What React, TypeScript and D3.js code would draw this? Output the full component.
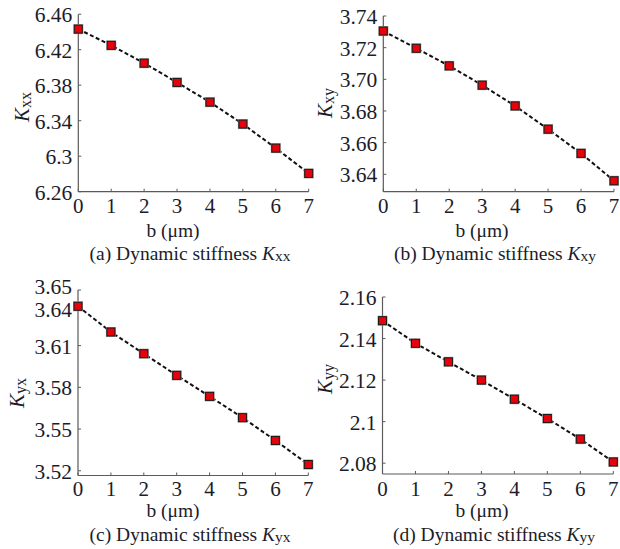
import React from "react";
import * as d3 from "d3";

const bValues = [0, 1, 2, 3, 4, 5, 6, 7];
const xTickLabels = ["0", "1", "2", "3", "4", "5", "6", "7"];

const kxx = [6.4432, 6.4249, 6.4048, 6.3831, 6.3609, 6.3362, 6.3091, 6.2806];
const kxy = [3.7305, 3.7196, 3.7085, 3.6963, 3.6832, 3.6685, 3.6532, 3.6359];
const kyx = [3.6383, 3.6198, 3.6042, 3.5886, 3.5735, 3.5582, 3.5418, 3.5245];
const kyy = [2.1486, 2.1377, 2.1288, 2.12, 2.1108, 2.1015, 2.0916, 2.0806];

const kxxTicks = [6.26, 6.3, 6.34, 6.38, 6.42, 6.46];
const kxxTickLabels = ["6.26", "6.3", "6.34", "6.38", "6.42", "6.46"];
const kxyTicks = [3.64, 3.66, 3.68, 3.7, 3.72, 3.74];
const kxyTickLabels = ["3.64", "3.66", "3.68", "3.70", "3.72", "3.74"];
const kyxTicks = [3.52, 3.55, 3.58, 3.61, 3.64, 3.65];
const kyxTickLabels = ["3.52", "3.55", "3.58", "3.61", "3.64", "3.65"];
const kyyTicks = [2.08, 2.1, 2.12, 2.14, 2.16];
const kyyTickLabels = ["2.08", "2.1", "2.12", "2.14", "2.16"];

const FONT = "'Liberation Serif', 'DejaVu Serif', serif";
const TXT = "#1c1c2a";
const AX = "#5a5a5a";

type PanelProps = {
  values: number[];
  xRange: [number, number];
  yDomain: [number, number];
  yRange: [number, number];
  yTicks: number[];
  yTickLabels: string[];
  labelShift?: number[];
  sub: string;
  letter: string;
  ylabelX: number;
  ylabelY: number;
  xTickY: number;
  xLabelY: number;
  captionY: number;
  captionX: number;
  xLabelX: number;
};

function Panel(p: PanelProps) {
  const x = d3.scaleLinear().domain([0, 7]).range(p.xRange);
  const y = d3.scaleLinear().domain(p.yDomain).range(p.yRange);
  const axisY = p.yRange[0];
  const axisTop = p.yRange[1];
  const line = d3
    .line<number>()
    .x((_, i) => x(bValues[i]))
    .y((v) => y(v));
  const x0 = p.xRange[0];
  return (
    <g>
      <line x1={x0} x2={x0} y1={axisY} y2={axisTop} stroke={AX} strokeWidth={1.2} />
      <line x1={x0} x2={p.xRange[1]} y1={axisY} y2={axisY} stroke={AX} strokeWidth={1.2} />
      {p.yTicks.map((t, i) => (
        <g key={"yt" + i}>
          <line x1={x0} x2={x0 + 3} y1={y(t)} y2={y(t)} stroke={AX} strokeWidth={1} />
          <text
            x={x0 - 6}
            y={y(t) + 8 + (p.labelShift ? p.labelShift[i] : 0)}
            textAnchor="end"
            fontFamily={FONT}
            fontSize={21.5}
            fill={TXT}
          >
            {p.yTickLabels[i]}
          </text>
        </g>
      ))}
      {bValues.map((b, i) => (
        <g key={"xt" + i}>
          <line x1={x(b)} x2={x(b)} y1={axisY} y2={axisY - 3} stroke={AX} strokeWidth={1} />
          <text x={x(b)} y={p.xTickY} textAnchor="middle" fontFamily={FONT} fontSize={21} fill={TXT}>
            {xTickLabels[i]}
          </text>
        </g>
      ))}
      <path
        d={line(p.values) || ""}
        fill="none"
        stroke="#111"
        strokeWidth={2}
        strokeDasharray="4,2.5"
      />
      {p.values.map((v, i) => (
        <g key={"m" + i}>
          <rect x={x(bValues[i]) - 5} y={y(v) - 5} width={10} height={10} fill="#9a9a9a" />
          <rect
            x={x(bValues[i]) - 4}
            y={y(v) - 4}
            width={8}
            height={8}
            fill="#e8000b"
            stroke="#1a1a1a"
            strokeWidth={1}
          />
        </g>
      ))}
      <text
        transform={`translate(${p.ylabelX},${p.ylabelY}) rotate(-90)`}
        textAnchor="middle"
        fontFamily={FONT}
        fontSize={21}
        fill={TXT}
      >
        <tspan fontStyle="italic">K</tspan>
        <tspan fontSize={16} dy={2}>
          {p.sub}
        </tspan>
      </text>
      <text x={p.xLabelX} y={p.xLabelY} textAnchor="middle" fontFamily={FONT} fontSize={19.5} fill={TXT}>
        b (μm)
      </text>
      <text x={p.captionX} y={p.captionY} textAnchor="middle" fontFamily={FONT} fontSize={19.5} fill={TXT}>
        {`(${p.letter}) Dynamic stiffness `}
        <tspan fontStyle="italic">K</tspan>
        <tspan fontSize={15.5} dy={1}>
          {p.sub}
        </tspan>
      </text>
    </g>
  );
}

export default function App() {
  return (
    <svg
      width={620}
      height={549}
      style={{ position: "absolute", left: 0, top: 0, background: "#fff" }}
    >
      <Panel
        values={kxx}
        xRange={[78.3, 308.7]}
        yDomain={[6.26, 6.46]}
        yRange={[191.7, 14.2]}
        yTicks={kxxTicks}
        yTickLabels={kxxTickLabels}
        sub="xx"
        letter="a"
        ylabelX={29}
        ylabelY={107}
        xTickY={213}
        xLabelY={237}
        xLabelX={173}
        captionX={190}
        captionY={260}
      />
      <Panel
        values={kxy}
        xRange={[383.3, 614]}
        yDomain={[3.629, 3.74]}
        yRange={[191.7, 16]}
        yTicks={kxyTicks}
        yTickLabels={kxyTickLabels}
        sub="xy"
        letter="b"
        ylabelX={332}
        ylabelY={103}
        xTickY={213}
        xLabelY={237}
        xLabelX={482}
        captionX={495}
        captionY={260}
      />
      <Panel
        values={kyx}
        xRange={[78, 308.3]}
        yDomain={[3.5166, 3.65]}
        yRange={[475.5, 290]}
        yTicks={kyxTicks}
        yTickLabels={kyxTickLabels}
        labelShift={[0, 0, 0, 0, 5, -4]}
        sub="yx"
        letter="c"
        ylabelX={24}
        ylabelY={393}
        xTickY={496}
        xLabelY={517}
        xLabelX={173}
        captionX={190}
        captionY={541}
      />
      <Panel
        values={kyy}
        xRange={[382.5, 613.3]}
        yDomain={[2.0748, 2.16]}
        yRange={[474, 297]}
        yTicks={kyyTicks}
        yTickLabels={kyyTickLabels}
        sub="yy"
        letter="d"
        ylabelX={332}
        ylabelY={379}
        xTickY={496}
        xLabelY={517}
        xLabelX={482}
        captionX={494}
        captionY={541}
      />
    </svg>
  );
}
